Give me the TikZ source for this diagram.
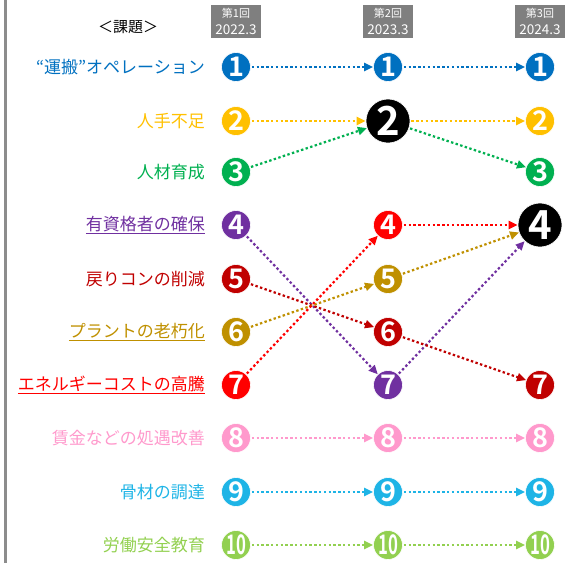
\documentclass[tikz,border=0pt]{standalone}
\usepackage{fontspec}
\usepackage{graphicx}
\setmainfont{Noto Sans CJK JP}[BoldFont={Noto Sans CJK JP Bold}]
\usetikzlibrary{arrows.meta}
\definecolor{cA}{HTML}{0070C0}
\definecolor{cB}{HTML}{FFC000}
\definecolor{cC}{HTML}{00B050}
\definecolor{cD}{HTML}{7030A0}
\definecolor{cE}{HTML}{C00000}
\definecolor{cF}{HTML}{BF9000}
\definecolor{cG}{HTML}{FF0000}
\definecolor{cH}{HTML}{FF99CC}
\definecolor{cI}{HTML}{1EB4E6}
\definecolor{cJ}{HTML}{92D050}
\definecolor{hdrgray}{HTML}{7F7F7F}
\definecolor{edgegray}{HTML}{8C8C8C}
\begin{document}
\begin{tikzpicture}[x=1pt,y=-1pt,
 num/.style={circle, fill=#1, draw=white, line width=0.6pt, minimum size=29pt, inner sep=0pt, text=white, font=\fontsize{27}{27}\bfseries},
 bignum/.style={circle, fill=black, draw=white, line width=0.6pt, minimum size=44pt, inner sep=0pt, text=white, font=\fontsize{40}{40}\bfseries},
 lab/.style={anchor=east, text=#1, font=\fontsize{17}{17}\selectfont, inner sep=0pt},
 arr/.style={draw=#1, line width=2.2pt, dash pattern=on 2.4pt off 2.4pt, -{Triangle[length=9pt,width=8pt,fill=#1]}, shorten <=1pt},
 hdrbox/.style={fill=hdrgray, minimum width=50pt, minimum height=33pt, inner sep=0pt},
 hdrtop/.style={text=white, inner sep=0pt, font=\fontsize{11}{11}\selectfont},
 hdrbot/.style={text=white, inner sep=0pt, font=\fontsize{13.5}{13.5}\selectfont}]
\useasboundingbox (0,0) rectangle (565,563);
\draw[edgegray, line width=3pt] (5,0) -- (5,563);
% header
\node[font=\fontsize{15}{15}\selectfont] (title) at (128,27) {＜課題＞};
\foreach \cx/\n/\yr in {236/1/2022.3, 388/2/2023.3, 540/3/2024.3}{
  \node[hdrbox] (h\n) at (\cx,21.5) {};
  \node[hdrtop] (ht\n) at (\cx,13.5) {第\n 回};
  \node[hdrbot] (hb\n) at (\cx,30) {\yr};
}
% labels
\node[lab=cA] (l1) at (205,67) {“運搬”オペレーション};
\node[lab=cB] (l2) at (205,121) {人手不足};
\node[lab=cC] (l3) at (205,172) {人材育成};
\node[lab=cD] (l4) at (205,225) {\underline{有資格者の確保}};
\node[lab=cE] (l5) at (205,279) {戻りコンの削減};
\node[lab=cF] (l6) at (205,332) {\underline{プラントの老朽化}};
\node[lab=cG] (l7) at (205,385) {\underline{エネルギーコストの高騰}};
\node[lab=cH] (l8) at (205,438) {賃金などの処遇改善};
\node[lab=cI] (l9) at (205,492) {骨材の調達};
\node[lab=cJ] (l10) at (205,545) {労働安全教育};
% column 1
\node[num=cA] (a1) at (236,67) {1};
\node[num=cB] (a2) at (236,121) {2};
\node[num=cC] (a3) at (236,172) {3};
\node[num=cD] (a4) at (236,225) {4};
\node[num=cE] (a5) at (236,279) {5};
\node[num=cF] (a6) at (236,332) {6};
\node[num=cG] (a7) at (236,385) {7};
\node[num=cH] (a8) at (236,438) {8};
\node[num=cI] (a9) at (236,492) {9};
\node[num=cJ] (a10) at (236,545) {\scalebox{0.62}[1]{10}};
% column 2
\node[num=cA] (b1) at (388,67) {1};
\node[bignum] (b2) at (388,121) {2};
\node[num=cG] (b4) at (388,225) {4};
\node[num=cF] (b5) at (388,279) {5};
\node[num=cE] (b6) at (388,332) {6};
\node[num=cD] (b7) at (388,385) {7};
\node[num=cH] (b8) at (388,438) {8};
\node[num=cI] (b9) at (388,492) {9};
\node[num=cJ] (b10) at (388,545) {\scalebox{0.62}[1]{10}};
% column 3
\node[num=cA] (c1) at (540,67) {1};
\node[num=cB] (c2) at (540,121) {2};
\node[num=cC] (c3) at (540,172) {3};
\node[bignum] (c4) at (540,225) {4};
\node[num=cE] (c7) at (540,385) {7};
\node[num=cH] (c8) at (540,438) {8};
\node[num=cI] (c9) at (540,492) {9};
\node[num=cJ] (c10) at (540,545) {\scalebox{0.62}[1]{10}};
% arrows col1 -> col2
\draw[arr=cA] (a1) -- (b1);
\draw[arr=cB] (a2) -- (b2);
\draw[arr=cC] (a3) -- (b2);
\draw[arr=cD] (a4) -- (b7);
\draw[arr=cE] (a5) -- (b6);
\draw[arr=cF] (a6) -- (b5);
\draw[arr=cG] (a7) -- (b4);
\draw[arr=cH] (a8) -- (b8);
\draw[arr=cI] (a9) -- (b9);
\draw[arr=cJ] (a10) -- (b10);
% arrows col2 -> col3
\draw[arr=cA] (b1) -- (c1);
\draw[arr=cB] (b2) -- (c2);
\draw[arr=cC] (b2) -- (c3);
\draw[arr=cG] (b4) -- (c4);
\draw[arr=cF] (b5) -- (c4);
\draw[arr=cD] (b7) -- (c4);
\draw[arr=cE] (b6) -- (c7);
\draw[arr=cH] (b8) -- (c8);
\draw[arr=cI] (b9) -- (c9);
\draw[arr=cJ] (b10) -- (c10);
\end{tikzpicture}
\end{document}
